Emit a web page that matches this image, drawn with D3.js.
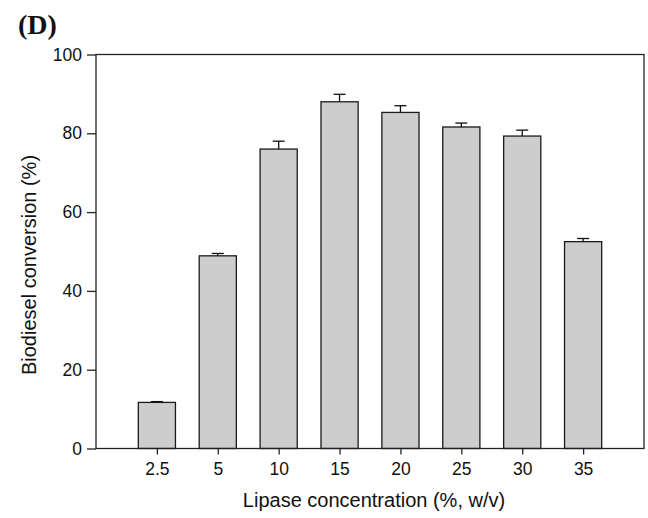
<!DOCTYPE html>
<html>
<head>
<meta charset="utf-8">
<script src="https://cdn.jsdelivr.net/npm/d3@7"></script>
<style>
html,body{margin:0;padding:0;background:#fff;}
svg{display:block;}
</style>
</head>
<body>
<svg id="chart" width="648" height="518"></svg>
<script>
const categories = ["2.5","5","10","15","20","25","30","35"];
const conversion = [11.7, 48.9, 76.0, 88.0, 85.3, 81.6, 79.3, 52.5];
const errors = [0.2, 0.6, 2.0, 1.9, 1.7, 1.0, 1.5, 0.8];
const yTicks = [0,20,40,60,80,100];

(function(){
const svg = d3.select("#chart");
const pLeft = 96, pRight = 644, pTop = 54.5, pBottom = 448.5;

const x = d3.scalePoint().domain(categories).range([pLeft, pRight]).padding(1);
const y = d3.scaleLinear().domain([0,100]).range([pBottom, pTop]);
const barW = x.step() * 0.61;

// bars
svg.append("g").selectAll("rect").data(categories).join("rect")
  .attr("x", d => x(d) - barW/2)
  .attr("y", (d,i) => y(conversion[i]))
  .attr("width", barW)
  .attr("height", (d,i) => pBottom - y(conversion[i]))
  .attr("fill", "#cdcdcd")
  .attr("stroke", "#1a1a1a")
  .attr("stroke-width", 1.3);

// error bars
const eb = svg.append("g").attr("stroke", "#111").attr("stroke-width", 1.3);
categories.forEach((c,i) => {
  const cx = x(c), yt = y(conversion[i] + errors[i]), yb = y(conversion[i]);
  eb.append("line").attr("x1", cx).attr("x2", cx).attr("y1", yt).attr("y2", yb);
  eb.append("line").attr("x1", cx - 6).attr("x2", cx + 6).attr("y1", yt).attr("y2", yt);
});

// frame
svg.append("rect").attr("x", pLeft).attr("y", pTop).attr("width", pRight-pLeft).attr("height", pBottom-pTop)
  .attr("fill", "none").attr("stroke", "#222").attr("stroke-width", 1.3);

// axes
const fontFam = "Liberation Sans, Arial, sans-serif";
const yAxis = svg.append("g").attr("transform", `translate(${pLeft},0)`)
  .call(d3.axisLeft(y).tickValues(yTicks).tickSize(9).tickPadding(5).tickFormat(d3.format("d")));
const xAxis = svg.append("g").attr("transform", `translate(0,${pBottom})`)
  .call(d3.axisBottom(x).tickSize(6).tickPadding(8));
[yAxis, xAxis].forEach(a => {
  a.select(".domain").remove();
  a.selectAll("line").attr("stroke", "#222").attr("stroke-width", 1.3);
  a.selectAll("text").attr("font-family", fontFam).attr("font-size", 17.5).attr("fill", "#111");
});

// titles
svg.append("text").attr("x", 374).attr("y", 507).attr("text-anchor", "middle")
  .attr("font-family", fontFam).attr("font-size", 20).attr("fill", "#111")
  .text("Lipase concentration (%, w/v)");
svg.append("text").attr("transform", `translate(36,265) rotate(-90)`)
  .attr("text-anchor", "middle")
  .attr("font-family", fontFam).attr("font-size", 20).attr("fill", "#111")
  .text("Biodiesel conversion (%)");
svg.append("text").attr("x", 18).attr("y", 34)
  .attr("font-family", "Liberation Serif, Times New Roman, serif").attr("font-weight", "bold")
  .attr("font-size", 28).attr("fill", "#111").text("(D)");
})();
</script>
</body>
</html>
